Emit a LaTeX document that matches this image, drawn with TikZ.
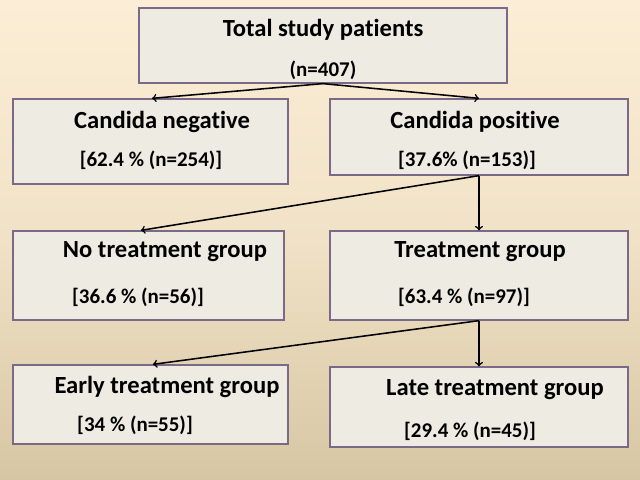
\documentclass[tikz,border=0pt]{standalone}
\usepackage{fontspec}
\setmainfont[Ligatures=NoCommon]{Carlito}
\definecolor{bgtop}{RGB}{252,238,214}
\definecolor{bgbottom}{RGB}{214,198,163}
\definecolor{boxfill}{RGB}{237,235,226}
\definecolor{boxline}{RGB}{122,106,135}
\begin{document}
\begin{tikzpicture}[x=0.025cm,y=-0.025cm,
  every node/.style={font=\bfseries},
  pbox/.style={draw=boxline,line width=0.9pt,fill=boxfill,inner sep=0pt},
  head/.style={font=\bfseries\fontsize{17.5}{19}\selectfont,inner sep=0pt},
  count/.style={font=\bfseries\fontsize{14.9}{17}\selectfont,inner sep=0pt},
  link/.style={->,line width=1.1pt}]
\shade[top color=bgtop,bottom color=bgbottom,middle color=bgtop!70!bgbottom] (0,0) rectangle (640,480);
\node[pbox,minimum width=9.2cm,minimum height=1.875cm] (total) at (323,45.5) {};
\node[pbox,minimum width=6.875cm,minimum height=2.125cm] (neg) at (150.5,141.5) {};
\node[pbox,minimum width=7.45cm,minimum height=1.9cm] (pos) at (479,137) {};
\node[pbox,minimum width=6.775cm,minimum height=2.225cm] (notreat) at (148.5,275.5) {};
\node[pbox,minimum width=7.45cm,minimum height=2.225cm] (treat) at (479,275.5) {};
\node[pbox,minimum width=6.875cm,minimum height=1.975cm] (early) at (150.5,404.5) {};
\node[pbox,minimum width=7.45cm,minimum height=2cm] (late) at (479,407) {};
% texts
\node[head] (totalname) at (323,30) {Total study patients};
\node[count] (totaln) at (323,70) {(n=407)};
\node[head] (negname) at (162,122) {Candida negative};
\node[count] (negn) at (151,160) {[62.4 \% (n=254)]};
\node[head] (posname) at (475,122) {Candida positive};
\node[count] (posn) at (467,160) {[37.6\% (n=153)]};
\node[head] (notreatname) at (165,252) {No treatment group};
\node[count] (notreatn) at (138,297) {[36.6 \% (n=56)]};
\node[head] (treatname) at (480,252) {Treatment group};
\node[count] (treatn) at (464,297) {[63.4 \% (n=97)]};
\node[head] (earlyname) at (167,387) {Early treatment group};
\node[count] (earlyn) at (135,425) {[34 \% (n=55)]};
\node[head] (latename) at (495,390) {Late treatment group};
\node[count] (laten) at (470,431) {[29.4 \% (n=45)]};
% connectors
\draw[link] (total.south) -- ([xshift=0.04cm]neg.north);
\draw[link] (total.south) -- (pos.north);
\draw[link] (pos.south) -- ([xshift=-0.19cm]notreat.north);
\draw[link] (pos.south) -- (treat.north);
\draw[link] (treat.south) -- ([xshift=0.06cm]early.north);
\draw[link] (treat.south) -- (late.north);
\end{tikzpicture}
\end{document}
